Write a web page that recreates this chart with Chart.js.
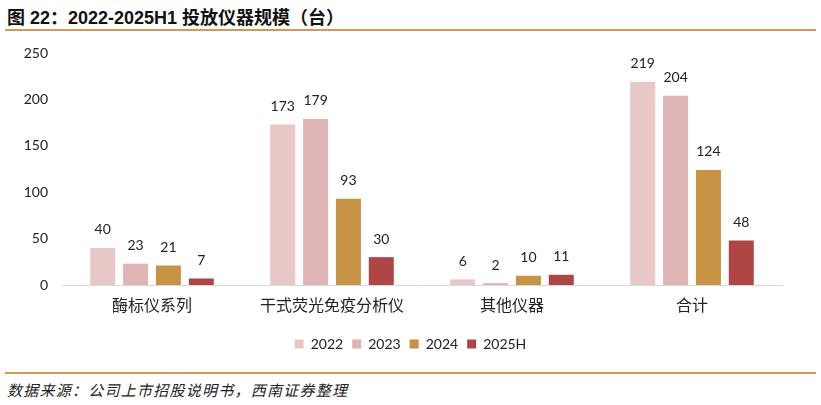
<!DOCTYPE html>
<html>
<head>
<meta charset="utf-8">
<script src="https://cdn.jsdelivr.net/npm/chart.js@4.4.1/dist/chart.umd.min.js"></script>
<style>
  html, body { margin: 0; padding: 0; background: #fff; }
  body { width: 821px; height: 405px; position: relative; overflow: hidden; }
  #title {
    position: absolute; left: 7px; top: 3px;
    font: bold 18px "Liberation Sans", "Noto Sans CJK SC", sans-serif;
    color: #111;
  }
  .rule { position: absolute; left: 5px; width: 811px; height: 2px; background: #D19B4C; }
  #footer {
    position: absolute; left: 7px; top: 379px;
    font: italic 15px "Noto Sans CJK SC", sans-serif;
    letter-spacing: 1.25px;
    color: #222;
  }
  #wrap { position: absolute; left: 0; top: 31px; width: 821px; height: 330px; }
</style>
</head>
<body>
<div id="title">图 22：2022-2025H1 投放仪器规模（台）</div>
<div class="rule" style="top:29px"></div>
<div id="wrap"><canvas id="chart" width="821" height="330"></canvas></div>
<div class="rule" style="top:372px"></div>
<div id="footer">数据来源：公司上市招股说明书，西南证券整理</div>

<script>
// 类别与数据
const categories = ["酶标仪系列", "干式荧光免疫分析仪", "其他仪器", "合计"];
const seriesNames = ["2022", "2023", "2024", "2025H"];
const values2022 = [40, 173, 6, 219];
const values2023 = [23, 179, 2, 204];
const values2024 = [21, 93, 10, 124];
const values2025H = [7, 30, 11, 48];
const yTicks = [0, 50, 100, 150, 200, 250];

const colors = ["#E8C7C7", "#DFB4B4", "#C69244", "#AE4646"];
const allValues = [values2022, values2023, values2024, values2025H];

const numFont = '"Lato", "Noto Sans CJK SC", sans-serif';
const cjkFont = '"Noto Sans CJK SC", sans-serif';

// 柱顶数值标签
const barLabels = {
  id: "barLabels",
  afterDatasetsDraw(chart) {
    const ctx = chart.ctx;
    ctx.save();
    ctx.font = "14px " + numFont;
    ctx.fillStyle = "#222";
    ctx.textAlign = "center";
    ctx.textBaseline = "bottom";
    chart.data.datasets.forEach((ds, i) => {
      chart.getDatasetMeta(i).data.forEach((bar, j) => {
        ctx.fillText(ds.data[j], bar.x, bar.y - 11);
      });
    });
    ctx.restore();
  },
};

// 图例按整张画布居中
const legendCenter = {
  id: "legendCenter",
  afterLayout(chart) {
    chart.legend.left = 0;
    chart.legend.right = chart.width;
  },
};

new Chart(document.getElementById("chart"), {
  type: "bar",
  data: {
    labels: categories,
    datasets: seriesNames.map((name, i) => ({
      label: name,
      data: allValues[i],
      backgroundColor: colors[i],
      barPercentage: 0.76,
      categoryPercentage: 0.73,
    })),
  },
  options: {
    responsive: false,
    animation: false,
    devicePixelRatio: 1,
    layout: { padding: { left: 0, right: 39, top: 22, bottom: 0 } },
    plugins: {
      legend: {
        position: "bottom",
        labels: {
          boxWidth: 9,
          boxHeight: 9,
          padding: 9,
          color: "#222",
          font: { size: 14, family: numFont },
        },
      },
      tooltip: { enabled: false },
    },
    scales: {
      x: {
        grid: { display: false },
        border: { color: "#D9D9D9", width: 1 },
        ticks: { color: "#222", font: { size: 16, family: cjkFont }, padding: 2 },
        afterFit: (s) => { s.height = 43; },
      },
      y: {
        min: 0,
        max: 250,
        afterBuildTicks: (s) => { s.ticks = yTicks.map((v) => ({ value: v })); },
        grid: { display: false },
        border: { display: false },
        ticks: { color: "#222", font: { size: 14, family: numFont }, padding: 6 },
        afterFit: (s) => { s.width = 62; },
      },
    },
  },
  plugins: [barLabels, legendCenter],
});
</script>
</body>
</html>
